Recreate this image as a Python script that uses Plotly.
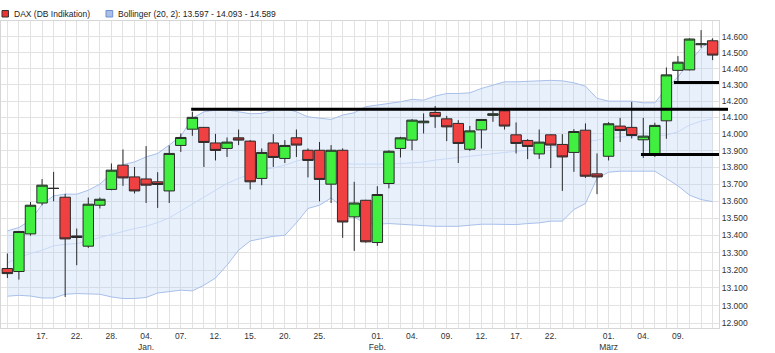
import numpy as np
import plotly.graph_objects as go

# ---------------- data ----------------
dates = ['2020-12-14', '2020-12-15', '2020-12-16', '2020-12-17', '2020-12-18', '2020-12-21',
         '2020-12-22', '2020-12-23', '2020-12-24', '2020-12-28', '2020-12-29', '2020-12-30',
         '2021-01-04', '2021-01-05', '2021-01-06', '2021-01-07', '2021-01-08', '2021-01-11',
         '2021-01-12', '2021-01-13', '2021-01-14', '2021-01-15', '2021-01-18', '2021-01-19',
         '2021-01-20', '2021-01-21', '2021-01-22', '2021-01-25', '2021-01-26', '2021-01-27',
         '2021-01-28', '2021-01-29',
         '2021-02-01', '2021-02-02', '2021-02-03', '2021-02-04', '2021-02-05', '2021-02-08',
         '2021-02-09', '2021-02-10', '2021-02-11', '2021-02-12', '2021-02-15', '2021-02-16',
         '2021-02-17', '2021-02-18', '2021-02-19', '2021-02-22', '2021-02-23', '2021-02-24',
         '2021-02-25', '2021-02-26',
         '2021-03-01', '2021-03-02', '2021-03-03', '2021-03-04', '2021-03-05', '2021-03-08',
         '2021-03-09', '2021-03-10', '2021-03-11', '2021-03-12']

opens = [13210, 13193, 13409, 13589, 13675, 13623, 13388, 13338, 13576, 13669, 13813, 13743,
         13731, 13714, 13660, 13931, 14029, 14040, 13946, 13913, 13977, 13957, 13734, 13946,
         13853, 13977, 13902, 13902, 13700, 13902, 13508, 13605,
         13359, 13704, 13913, 13963, 14068, 14131, 14092, 14064, 13908, 14025, 14113, 14141,
         13995, 13961, 13880, 13995, 13937, 13889, 14023, 13761,
         13866, 14048, 14040, 13965, 13872, 14080, 14390, 14393, 14550, 14575]

highs = [13296, 13426, 13595, 13730, 13773, 13643, 13440, 13621, 13621, 13823, 13907, 13802,
         13927, 13771, 13931, 14003, 14135, 14042, 14001, 13979, 14027, 13963, 13913, 13999,
         13963, 14027, 13913, 13952, 13933, 13913, 13714, 13608,
         13688, 13902, 13983, 14090, 14125, 14170, 14110, 14084, 14049, 14090, 14141, 14145,
         14070, 13969, 14027, 13998, 13999, 14029, 14064, 13883,
         14072, 14098, 14196, 14098, 14068, 14408, 14479, 14590, 14642, 14590]

lows = [13156, 13147, 13399, 13576, 13599, 13049, 13229, 13328, 13557, 13664, 13690, 13645,
        13589, 13560, 13589, 13892, 13989, 13802, 13841, 13862, 13933, 13669, 13694, 13802,
        13826, 13862, 13740, 13599, 13589, 13386, 13311, 13358,
        13340, 13675, 13859, 13902, 14003, 14037, 13957, 13826, 13898, 13913, 14074, 14027,
        13883, 13849, 13850, 13796, 13660, 13773, 13737, 13641,
        13841, 13952, 13973, 13856, 13862, 13971, 14317, 14390, 14531, 14454]

closes = [13181, 13423, 13576, 13694, 13675, 13380, 13397, 13582, 13611, 13783, 13737, 13660,
          13694, 13698, 13883, 13979, 14101, 13949, 13901, 13951, 13963, 13714, 13889, 13859,
          13931, 13933, 13841, 13728, 13902, 13478, 13589, 13363,
          13639, 13896, 13977, 14084, 14078, 14107, 14043, 13943, 14019, 14088, 14123, 14048,
          13943, 13925, 13951, 13933, 13862, 14015, 13747, 13743,
          14062, 14021, 13991, 13987, 14052, 14362, 14441, 14586, 14556, 14485]

bb_upper = [13426, 13446, 13488, 13580, 13631, 13641, 13641, 13664, 13700, 13763, 13816, 13832,
            13862, 13883, 13933, 13987, 14095, 14135, 14145, 14145, 14135, 14123, 14125, 14145,
            14155, 14135, 14104, 14095, 14088, 14115, 14129, 14166,
            14176, 14186, 14196, 14211, 14206, 14231, 14247, 14247, 14251, 14278, 14299, 14319,
            14319, 14322, 14324, 14328, 14325, 14313, 14292, 14217,
            14200, 14200, 14200, 14190, 14190, 14278, 14350, 14443, 14527, 14589]

bb_middle = [13242, 13273, 13296, 13315, 13340, 13349, 13353, 13368, 13388, 13405, 13426, 13440,
             13453, 13475, 13502, 13543, 13586, 13625, 13664, 13704, 13734, 13759, 13787, 13796,
             13813, 13836, 13856, 13843, 13832, 13822, 13819, 13819,
             13815, 13819, 13822, 13826, 13832, 13843, 13853, 13859, 13866, 13874, 13883, 13890,
             13896, 13902, 13910, 13919, 13928, 13938, 13952, 13963,
             13979, 13982, 13987, 13987, 13993, 13993, 14013, 14054, 14078, 14093]

bb_lower = [13053, 13058, 13054, 13043, 13043, 13064, 13068, 13068, 13064, 13049, 13040, 13040,
            13046, 13071, 13077, 13087, 13083, 13115, 13156, 13229, 13315, 13368, 13382, 13395,
            13401, 13473, 13557, 13576, 13619, 13564, 13506, 13469,
            13465, 13469, 13465, 13459, 13455, 13453, 13453, 13453, 13459, 13465, 13465, 13463,
            13463, 13469, 13473, 13483, 13483, 13551, 13586, 13734,
            13771, 13777, 13777, 13777, 13777, 13734, 13690, 13635, 13609, 13597]

tick_dates = ['2020-12-17', '2020-12-22', '2020-12-28', '2021-01-04', '2021-01-07', '2021-01-12',
              '2021-01-15', '2021-01-20', '2021-01-25', '2021-02-01', '2021-02-04', '2021-02-09',
              '2021-02-12', '2021-02-17', '2021-02-22', '2021-03-01', '2021-03-04', '2021-03-09']
tick_labels = ['17.', '22.', '28.', '04.<br>Jan.', '07.', '12.', '15.', '20.', '25.',
               '01.<br>Feb.', '04.', '09.', '12.', '17.', '22.', '01.<br>März', '04.', '09.']

y_ticks = [12900, 13000, 13100, 13200, 13300, 13400, 13500, 13600, 13700, 13800, 13900,
           14000, 14100, 14200, 14300, 14400, 14500, 14600]

level_values = [14150, 14315, 13877]
level_start_dates = ['2021-01-08', '2021-03-09', '2021-03-04']

legend_dax = 'DAX (DB Indikation)'
legend_bb = 'Bollinger (20, 2): 13.597 - 14.093 - 14.589'

# ---------------- figure ----------------
n = len(dates)
x = list(range(n))
x_range = [-0.55, n - 1 + 0.55]
y_range = [np.log10(12875), np.log10(14700)]
level_offsets = [-0.1, -0.35, -0.2]

label_map = dict(zip(tick_dates, tick_labels))
all_ticktext = [label_map.get(d, '') for d in dates]

font_family = 'Liberation Sans, Arial, sans-serif'
grid_col = '#e2e2e2'
band_line = '#a9c0ea'

fig = go.Figure()
# Bollinger band on the base axes (drawn below)
fig.add_trace(go.Scatter(x=x, y=bb_upper, mode='lines', line=dict(color=band_line, width=1),
                         hoverinfo='skip', showlegend=False))
fig.add_trace(go.Scatter(x=x, y=bb_lower, mode='lines', line=dict(color=band_line, width=1),
                         fill='tonexty', fillcolor='rgba(180,205,245,0.30)',
                         hoverinfo='skip', showlegend=False))
fig.add_trace(go.Scatter(x=x, y=bb_middle, mode='lines', line=dict(color='#c9daf6', width=1),
                         hoverinfo='skip', showlegend=False))
# candles on overlaying axes (drawn above the band)
fig.add_trace(go.Candlestick(
    x=x, open=opens, high=highs, low=lows, close=closes,
    xaxis='x2', yaxis='y2',
    increasing=dict(fillcolor='#41ef41', line=dict(color='#2a2a2a', width=1)),
    decreasing=dict(fillcolor='#ef4141', line=dict(color='#2a2a2a', width=1)),
    whiskerwidth=0, showlegend=False, hoverinfo='skip'))

for lv, sd, off in zip(level_values, level_start_dates, level_offsets):
    xi = dates.index(sd) + off
    fig.add_trace(go.Scatter(x=[xi, x_range[1]], y=[lv, lv], mode='lines',
                             xaxis='x2', yaxis='y2',
                             line=dict(color='#000000', width=3),
                             hoverinfo='skip', showlegend=False))

# extension of the long resistance line over the axis edge
fig.add_shape(type='line', xref='paper', yref='y', x0=1, x1=1.0125,
              y0=level_values[0], y1=level_values[0],
              line=dict(color='#000000', width=3), layer='above')

# legend (squares + texts)
fig.add_shape(type='rect', xref='paper', yref='paper', x0=0.0014, x1=0.0104, y0=1.013, y1=1.0342,
              fillcolor='#ee3333', line=dict(color='#333333', width=1))
fig.add_shape(type='rect', xref='paper', yref='paper', x0=0.1462, x1=0.1556, y0=1.013, y1=1.0342,
              fillcolor='#aabfe8', line=dict(color='#6f8fd0', width=1))
fig.add_annotation(text=legend_dax, xref='paper', yref='paper', x=0.0157, y=1.0228,
                   xanchor='left', yanchor='middle', showarrow=False,
                   font=dict(family=font_family, size=8.5, color='#222222'))
fig.add_annotation(text=legend_bb, xref='paper', yref='paper', x=0.1597, y=1.0228,
                   xanchor='left', yanchor='middle', showarrow=False,
                   font=dict(family=font_family, size=8.5, color='#222222'))

fig.update_layout(
    width=775, height=353, autosize=False,
    margin=dict(l=1, r=56, t=21, b=25, pad=0),
    paper_bgcolor='white', plot_bgcolor='white',
    boxgap=0.05, boxgroupgap=0.05,
    hovermode=False, showlegend=False,
    font=dict(family=font_family, size=8.5, color='#333333'),
    xaxis=dict(
        range=x_range, tickmode='array', tickvals=x, ticktext=all_ticktext,
        showgrid=True, gridcolor=grid_col, gridwidth=1, ticks='',
        showline=True, mirror=True, linecolor='#d6d6d6', linewidth=1,
        zeroline=False, rangeslider=dict(visible=False),
        tickfont=dict(family=font_family, size=8.5, color='#333333'),
    ),
    yaxis=dict(
        type='log', range=y_range, side='right',
        tickmode='array', tickvals=y_ticks,
        ticktext=[f'{v:,}'.replace(',', '.') for v in y_ticks],
        showgrid=True, gridcolor=grid_col, gridwidth=1, ticks='',
        showline=True, mirror=True, linecolor='#d6d6d6', linewidth=1, zeroline=False,
        tickfont=dict(family=font_family, size=8.5, color='#333333'),
    ),
    xaxis2=dict(overlaying='x', range=x_range, visible=False, showgrid=False,
                zeroline=False, rangeslider=dict(visible=False)),
    yaxis2=dict(overlaying='y', type='log', range=y_range, visible=False,
                showgrid=False, zeroline=False, side='right'),
)

fig.write_html('out.html', config={'displayModeBar': False})
